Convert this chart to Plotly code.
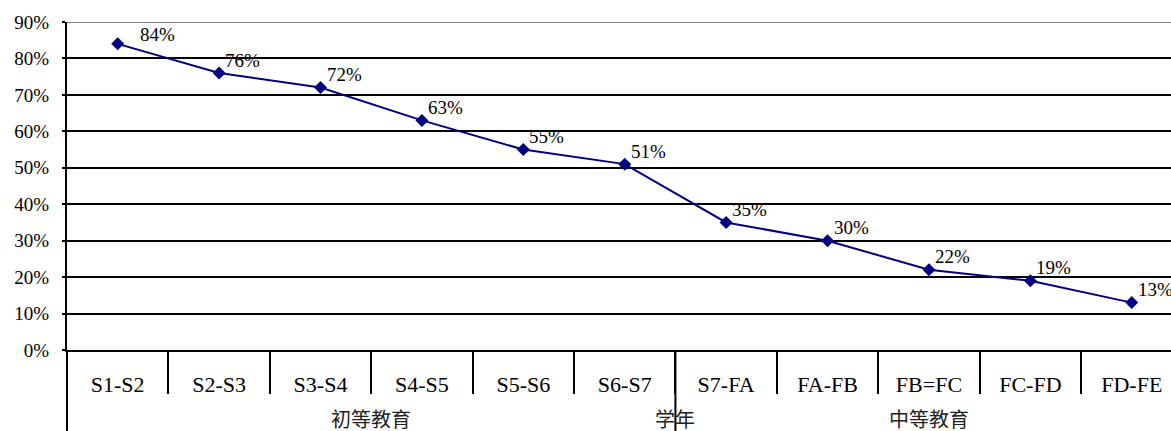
import plotly.graph_objects as go

categories = ["S1-S2", "S2-S3", "S3-S4", "S4-S5", "S5-S6", "S6-S7",
              "S7-FA", "FA-FB", "FB=FC", "FC-FD", "FD-FE"]
rates = [0.84, 0.76, 0.72, 0.63, 0.55, 0.51, 0.35, 0.30, 0.22, 0.19, 0.13]
rate_labels = ["84%", "76%", "72%", "63%", "55%", "51%", "35%", "30%", "22%", "19%", "13%"]
groups = ["初等教育", "中等教育"]
group_sizes = [6, 5]
axis_title = "学年"
y_ticks = [0, 0.1, 0.2, 0.3, 0.4, 0.5, 0.6, 0.7, 0.8, 0.9]

SERIF = "Liberation Serif, Times New Roman, serif"
CJK = "Noto Sans CJK SC, Noto Sans, sans-serif"

x_idx = list(range(len(categories)))

fig = go.Figure()
fig.add_trace(go.Scatter(
    x=x_idx, y=rates, mode="lines+markers",
    line=dict(color="#000080", width=2),
    marker=dict(symbol="diamond", size=10, color="#000080"),
    cliponaxis=False, showlegend=False, hoverinfo="skip",
))

# data labels (first one is placed a bit further right, as in the original)
for i, (v, t) in enumerate(zip(rates, rate_labels)):
    dx, dy = (20, 9) if i == 0 else (4, 13)
    fig.add_annotation(x=i, y=v, xref="x", yref="y", text=t, showarrow=False,
                       xanchor="left", yanchor="middle", xshift=dx, yshift=dy,
                       font=dict(family=SERIF, size=19, color="black"))

boundaries = [i + 0.5 for i in range(len(categories) - 1)]
xr = [-0.5, 10.387]

fig.update_layout(
    width=1171, height=431,
    margin=dict(l=67, r=0, t=22, b=81),
    paper_bgcolor="white", plot_bgcolor="white",
    xaxis=dict(
        range=xr, tickmode="array", tickvals=x_idx, ticktext=categories,
        ticks="", showgrid=False, zeroline=False,
        showline=True, linecolor="black", linewidth=2,
        tickfont=dict(family=SERIF, size=22, color="black"),
        ticklabelstandoff=14,
    ),
    xaxis2=dict(
        overlaying="x", anchor="y", side="bottom", range=xr,
        tickmode="array", tickvals=boundaries, showticklabels=False,
        ticks="outside", ticklen=43, tickwidth=2, tickcolor="black",
        showgrid=False, zeroline=False, showline=False,
    ),
    yaxis=dict(
        range=[0, 0.9], tickmode="array", tickvals=y_ticks, tickformat=".0%",
        showgrid=True, gridcolor="black", gridwidth=2, zeroline=False,
        showline=True, linecolor="black", linewidth=2,
        ticks="outside", ticklen=3, tickwidth=2, tickcolor="black",
        tickfont=dict(family=SERIF, size=19, color="black"),
        ticklabelstandoff=9,
    ),
)
fig.add_trace(go.Scatter(x=[xr[0]], y=[None], xaxis="x2", showlegend=False, hoverinfo="skip"))

# gray top border line
fig.add_shape(type="line", xref="paper", yref="y", x0=0, x1=1, y0=0.9, y1=0.9,
              line=dict(color="#808080", width=2))
# extensions of the y-axis line and the group separator down to the bottom
fig.add_shape(type="line", xref="paper", yref="paper", x0=0, x1=0, y0=0, y1=-81 / 328,
              line=dict(color="black", width=2))
split = group_sizes[0] - 0.5
fig.add_shape(type="line", xref="x", yref="paper", x0=split, x1=split, y0=0, y1=-81 / 328,
              line=dict(color="black", width=2))

# group labels
start = -0.5
for g, n in zip(groups, group_sizes):
    fig.add_annotation(x=start + n / 2, y=-68 / 328, xref="x", yref="paper",
                       text=g, showarrow=False, yanchor="middle",
                       font=dict(family=CJK, size=20, color="#222222"))
    start += n
fig.add_annotation(x=split, y=-68 / 328, xref="x", yref="paper",
                   text=axis_title, showarrow=False, yanchor="middle",
                   font=dict(family=CJK, size=20, color="#222222"))

fig.write_html("out.html")
